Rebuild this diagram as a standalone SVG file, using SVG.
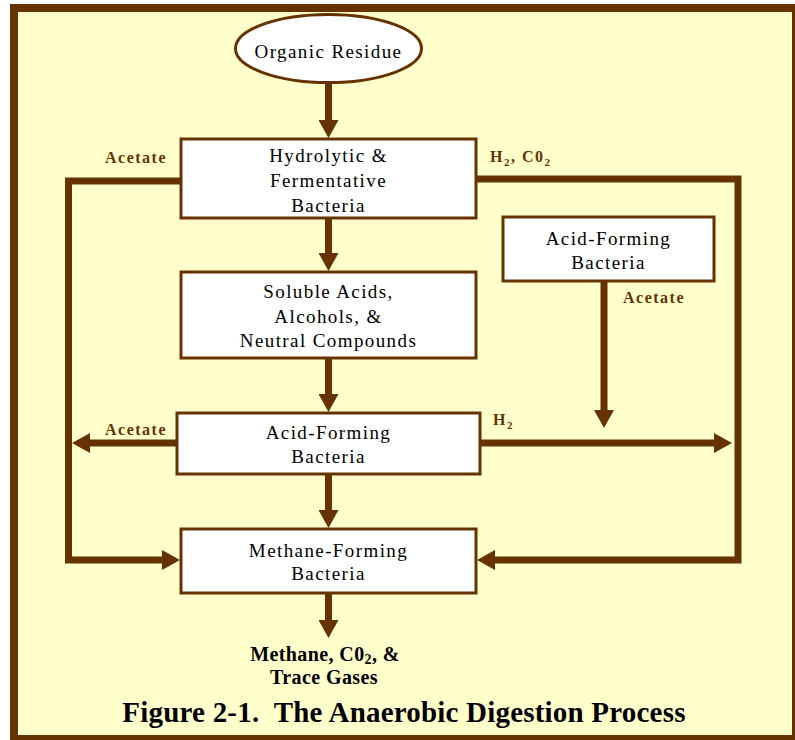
<svg xmlns="http://www.w3.org/2000/svg" width="795" height="740" viewBox="0 0 795 740">
<style>
.frame{fill:#FFFFCC;stroke:#663300;stroke-width:8}
.box{fill:#FFFFFF;stroke:#663300;stroke-width:3}
.t{font-family:"Liberation Serif","Times New Roman",serif;font-size:19px;fill:#000;text-anchor:middle;letter-spacing:1.4px}
.lbl{font-family:"Liberation Serif","Times New Roman",serif;font-size:16px;font-weight:bold;fill:#663300;letter-spacing:1.5px}
.out{font-family:"Liberation Serif","Times New Roman",serif;font-size:20px;font-weight:bold;fill:#000;text-anchor:middle;letter-spacing:0.4px}
.title{font-family:"Liberation Serif","Times New Roman",serif;font-size:29px;font-weight:bold;fill:#000;text-anchor:middle;letter-spacing:0.2px}
.c{fill:none;stroke:#663300;stroke-width:7}
</style>
<defs>
<marker id="ah" markerUnits="userSpaceOnUse" markerWidth="20" markerHeight="20" refX="1" refY="10" orient="auto">
<path d="M0,0 L18,10 L0,20 z" fill="#663300"/>
</marker>
</defs>
<rect class="frame" x="14" y="8" width="782" height="731"/>

<g id="connectors">
<line class="c" x1="328.5" y1="82" x2="328.5" y2="121" marker-end="url(#ah)"/>
<line class="c" x1="328.5" y1="218" x2="328.5" y2="254" marker-end="url(#ah)"/>
<line class="c" x1="328.5" y1="358" x2="328.5" y2="395" marker-end="url(#ah)"/>
<line class="c" x1="328.5" y1="474" x2="328.5" y2="511" marker-end="url(#ah)"/>
<line class="c" x1="328.5" y1="593" x2="328.5" y2="621" marker-end="url(#ah)"/>
<path class="c" d="M181,181 H68.5 V560 H163" marker-end="url(#ah)"/>
<path class="c" d="M476,179 H738 V560 H494" marker-end="url(#ah)"/>
<line class="c" x1="604" y1="281" x2="604" y2="411" marker-end="url(#ah)"/>
<line class="c" x1="480" y1="443" x2="715" y2="443" marker-end="url(#ah)"/>
<line class="c" x1="177" y1="443" x2="89" y2="443" marker-end="url(#ah)"/>
</g>

<g id="organic-residue">
<ellipse class="box" cx="328.5" cy="48.5" rx="93" ry="34"/>
<text class="t" x="328.5" y="58">Organic Residue</text>
</g>

<g id="hydrolytic">
<rect class="box" x="181" y="139" width="295" height="79"/>
<text class="t" x="328.5" y="162">Hydrolytic &amp;</text>
<text class="t" x="328.5" y="187">Fermentative</text>
<text class="t" x="328.5" y="212">Bacteria</text>
</g>

<g id="soluble">
<rect class="box" x="181" y="272" width="295" height="86"/>
<text class="t" x="328.5" y="298">Soluble Acids,</text>
<text class="t" x="328.5" y="323">Alcohols, &amp;</text>
<text class="t" x="328.5" y="347">Neutral Compounds</text>
</g>

<g id="acid-forming-right">
<rect class="box" x="503" y="217" width="211" height="64"/>
<text class="t" x="608.5" y="245">Acid-Forming</text>
<text class="t" x="608.5" y="269">Bacteria</text>
</g>

<g id="acid-forming-middle">
<rect class="box" x="177" y="413" width="303" height="61"/>
<text class="t" x="328.5" y="439">Acid-Forming</text>
<text class="t" x="328.5" y="463">Bacteria</text>
</g>

<g id="methane-forming">
<rect class="box" x="181" y="529" width="295" height="64"/>
<text class="t" x="328.5" y="557">Methane-Forming</text>
<text class="t" x="328.5" y="580">Bacteria</text>
</g>

<g id="labels">
<text class="lbl" x="105" y="163">Acetate</text>
<text class="lbl" x="490" y="162">H<tspan font-size="11" dy="4">2</tspan><tspan dy="-4">, C0</tspan><tspan font-size="11" dy="4">2</tspan></text>
<text class="lbl" x="623" y="303">Acetate</text>
<text class="lbl" x="105" y="435">Acetate</text>
<text class="lbl" x="493" y="425">H<tspan font-size="11" dy="4">2</tspan></text>
</g>

<g id="output">
<text class="out" x="325" y="661">Methane, C0<tspan font-size="14" dy="3">2</tspan><tspan dy="-3">, &amp;</tspan></text>
<text class="out" x="324" y="684">Trace Gases</text>
</g>

<text class="title" x="404" y="722" xml:space="preserve">Figure 2-1.  The Anaerobic Digestion Process</text>
</svg>
